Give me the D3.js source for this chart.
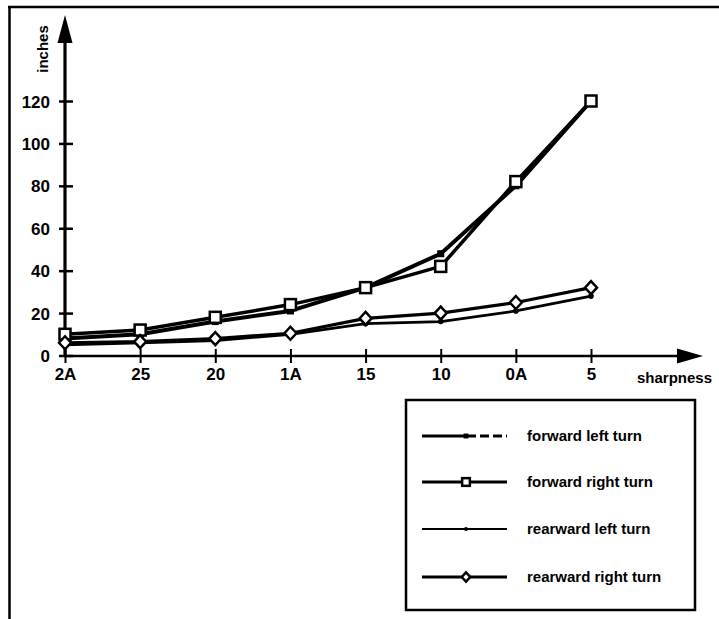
<!DOCTYPE html>
<html>
<head>
<meta charset="utf-8">
<script src="https://cdn.jsdelivr.net/npm/d3@7"></script>
<style>
  html, body { margin: 0; padding: 0; background: #fff; }
  svg { display: block; }
  text { font-family: "Liberation Sans", Arial, Helvetica, sans-serif; font-weight: bold; fill: #000; }
</style>
</head>
<body>
<svg id="chart" width="719" height="619"></svg>
<script>
const categories = ["2A", "25", "20", "1A", "15", "10", "0A", "5"];
const forwardLeft  = [8, 10, 16, 21, 32, 48, 80, 120];
const forwardRight = [10, 12, 18, 24, 32, 42, 82, 120];
const rearwardLeft = [5, 6, 7, 10, 15, 16, 21, 28];
const rearwardRight= [6, 6.5, 8, 10.5, 17.5, 20, 25, 32];
const yTicks = [0, 20, 40, 60, 80, 100, 120];
const seriesNames = ["forward left turn", "forward right turn", "rearward left turn", "rearward right turn"];

const svg = d3.select("#chart");

// frame
svg.append("line").attr("x1", 9.5).attr("y1", 6).attr("x2", 9.5).attr("y2", 619).attr("stroke", "#000").attr("stroke-width", 2.5);
svg.append("line").attr("x1", 8).attr("y1", 7).attr("x2", 719).attr("y2", 7).attr("stroke", "#000").attr("stroke-width", 2.5);

const x = d3.scalePoint().domain(categories).range([65, 591]);
const y = d3.scaleLinear().domain([0, 120]).range([355.5, 101]);

// y axis line with arrow
svg.append("line").attr("x1", 65).attr("y1", 356).attr("x2", 65).attr("y2", 40).attr("stroke", "#000").attr("stroke-width", 3.2);
svg.append("path").attr("d", "M65,15 L57.5,43 L72.5,43 Z").attr("fill", "#000");
// x axis line with arrow
svg.append("line").attr("x1", 64).attr("y1", 356).attr("x2", 680).attr("y2", 356).attr("stroke", "#000").attr("stroke-width", 2.5);
svg.append("path").attr("d", "M703,356 L677,348.5 L677,363.5 Z").attr("fill", "#000");

// y axis ticks & labels
const yAxis = d3.axisLeft(y).tickValues(yTicks).tickSize(6).tickPadding(10).tickFormat(d3.format("d"));
const gy = svg.append("g").attr("transform", "translate(65,0)").call(yAxis);
gy.select(".domain").remove();
gy.selectAll(".tick line").attr("x1", -6).attr("x2", 8).attr("stroke", "#000").attr("stroke-width", 2.5);
gy.selectAll(".tick text").attr("font-size", 17).attr("x", -15).attr("dy", "0.36em")
  .attr("font-family", "Liberation Sans, Arial, sans-serif").attr("font-weight", "bold").attr("fill", "#000");

// x axis ticks & labels
const xAxis = d3.axisBottom(x).tickSize(6).tickPadding(8);
const gx = svg.append("g").attr("transform", "translate(0,356)").call(xAxis);
gx.select(".domain").remove();
gx.selectAll(".tick line").attr("y1", -7).attr("y2", 7).attr("stroke", "#000").attr("stroke-width", 2);
gx.selectAll(".tick text").attr("font-size", 17).attr("y", 12).attr("dy", "0.71em")
  .attr("font-family", "Liberation Sans, Arial, sans-serif").attr("font-weight", "bold").attr("fill", "#000");

// axis titles
svg.append("text").attr("transform", "translate(48,49) rotate(-90)").attr("text-anchor", "middle")
  .attr("font-size", 15).text("inches");
svg.append("text").attr("x", 637).attr("y", 383).attr("font-size", 15).text("sharpness");

// lines
const line = d3.line().x((d, i) => x(categories[i])).y(d => y(d));
const series = [
  { name: seriesNames[0], values: forwardLeft, width: 4, marker: "fsq" },
  { name: seriesNames[1], values: forwardRight, width: 3.5, marker: "osq" },
  { name: seriesNames[2], values: rearwardLeft, width: 2.8, marker: "dot" },
  { name: seriesNames[3], values: rearwardRight, width: 3.2, marker: "dia" }
];

function drawMarker(g, type, cx, cy, s) {
  if (type === "fsq") {
    g.append("rect").attr("x", cx - 3.5 * s).attr("y", cy - 3.5 * s).attr("width", 7 * s).attr("height", 7 * s).attr("fill", "#000");
  } else if (type === "osq") {
    g.append("rect").attr("x", cx - 5.5 * s).attr("y", cy - 5.5 * s).attr("width", 11 * s).attr("height", 11 * s)
      .attr("fill", "#fff").attr("stroke", "#000").attr("stroke-width", 2.5);
  } else if (type === "dot") {
    g.append("circle").attr("cx", cx).attr("cy", cy).attr("r", 2.8 * s).attr("fill", "#000");
  } else if (type === "dia") {
    g.append("path").attr("d", `M${cx},${cy - 6.5 * s} L${cx + 6 * s},${cy} L${cx},${cy + 6.5 * s} L${cx - 6 * s},${cy} Z`)
      .attr("fill", "#fff").attr("stroke", "#000").attr("stroke-width", 2.5);
  }
}

series.forEach(s => {
  svg.append("path").datum(s.values).attr("d", line).attr("fill", "none")
    .attr("stroke", "#000").attr("stroke-width", s.width).attr("stroke-linejoin", "round");
});
series.forEach(s => {
  const g = svg.append("g");
  s.values.forEach((v, i) => drawMarker(g, s.marker, x(categories[i]), y(v), 1));
});

// legend
svg.append("rect").attr("x", 406).attr("y", 400).attr("width", 289).attr("height", 210)
  .attr("fill", "none").attr("stroke", "#000").attr("stroke-width", 2.5);
const legendY = [436, 482, 529, 577];
series.forEach((s, i) => {
  const ly = legendY[i];
  const g = svg.append("g");
  if (i === 0) {
    g.append("line").attr("x1", 422).attr("x2", 464).attr("y1", ly).attr("y2", ly).attr("stroke", "#000").attr("stroke-width", 3);
    g.append("line").attr("x1", 467).attr("x2", 507).attr("y1", ly).attr("y2", ly).attr("stroke", "#000").attr("stroke-width", 3).attr("stroke-dasharray", "9,4");
  } else {
    g.append("line").attr("x1", 422).attr("x2", 507).attr("y1", ly).attr("y2", ly).attr("stroke", "#000").attr("stroke-width", i === 2 ? 2 : 2.8);
  }
  drawMarker(g, s.marker, 466, ly, 0.7);
  g.append("text").attr("x", 527).attr("y", ly + 5).attr("font-size", 15).text(s.name);
});
</script>
</body>
</html>
